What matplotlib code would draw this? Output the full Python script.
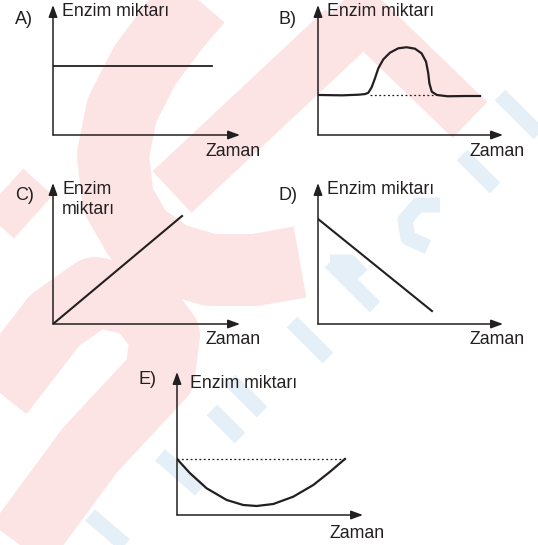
import matplotlib
matplotlib.use("Agg")
import matplotlib.pyplot as plt

# ---- chart data (each panel uses a 0..10 x 0..10 box, arrows at the ends) ----
a_x = [0, 8.5]
a_y = [5.3, 5.3]

b_x = [0, 1.3, 2.2, 2.55, 2.72, 2.90, 3.08, 3.26, 3.53, 3.89, 4.34, 4.79, 5.24, 5.60,
       5.84, 5.96, 6.02, 6.15, 6.42, 7.0, 8.0, 8.76]
b_y = [3.08, 3.05, 3.10, 3.15, 3.25, 3.67, 4.36, 5.13, 5.82, 6.33, 6.67, 6.75, 6.64, 6.28,
       5.64, 4.75, 3.98, 3.33, 3.08, 2.98, 3.00, 3.00]
b_dot_x = [2.8, 6.2]
b_dot_y = [3.08, 3.08]

c_x = [0, 6.9]
c_y = [0, 7.66]

d_x = [0, 6.16]
d_y = [7.45, 0.92]

e_x = [0, 0.70, 1.59, 2.67, 3.56, 4.28, 5.18, 6.25, 7.33, 8.23, 9.03]
e_y = [3.92, 2.92, 1.87, 1.05, 0.70, 0.63, 0.77, 1.28, 2.10, 3.03, 3.92]
e_dot_x = [0, 9.03]
e_dot_y = [3.92, 3.92]

ylabel = "Enzim miktarı"
xlabel = "Zaman"

# ---- faint watermark strokes (pixel coords of the page, width in px) ----
pink_strokes = [
    ([(205, -10), (175, 25), (145, 65), (122, 110), (113, 155), (118, 200), (138, 235),
      (170, 258), (210, 270), (255, 270), (300, 262)], 72),
    ([(172, 192), (345, 30)], 57),
    ([(320, -25), (470, 120)], 50),
    ([(-30, 430), (55, 320), (95, 292), (140, 302), (165, 335), (160, 375), (90, 450), (20, 545)], 70),
    ([(-10, 235), (38, 182)], 40),
]
blue_strokes = [
    ([(500, 95), (545, 140)], 15),
    ([(462, 155), (495, 188)], 15),
    ([(440, 205), (418, 205), (405, 220), (408, 238), (428, 247)], 15),
    ([(330, 262), (375, 307)], 15),
    ([(330, 262), (350, 262), (362, 275)], 15),
    ([(292, 322), (328, 358)], 15),
    ([(230, 380), (262, 412)], 15),
    ([(212, 410), (240, 438)], 15),
    ([(160, 455), (200, 490)], 15),
    ([(90, 515), (125, 545)], 15),
]
pink = "#fde4e4"
blue = "#e4eff8"
ink = "#231f20"

W, H = 538, 545
fig = plt.figure(figsize=(W / 100, H / 100), dpi=100)
plt.rcParams["font.family"] = ["Liberation Sans", "DejaVu Sans"]

bg = fig.add_axes([0, 0, 1, 1], zorder=-5)
bg.set_xlim(0, W)
bg.set_ylim(H, 0)
bg.axis("off")
for pts, w in pink_strokes:
    bg.plot([p[0] for p in pts], [p[1] for p in pts], color=pink, lw=w * 0.72,
            solid_capstyle="butt", solid_joinstyle="round")
for pts, w in blue_strokes:
    bg.plot([p[0] for p in pts], [p[1] for p in pts], color=blue, lw=w * 0.72,
            solid_capstyle="butt", solid_joinstyle="round")


def panel(l, t, r, b):
    ax = fig.add_axes([l / W, 1 - b / H, (r - l) / W, (b - t) / H])
    ax.set_xlim(0, 10)
    ax.set_ylim(0, 10)
    ax.axis("off")
    ax.patch.set_alpha(0)
    ap = dict(arrowstyle="-|>,head_length=0.6,head_width=0.22", color=ink, lw=1.1,
              shrinkA=0, shrinkB=0, mutation_scale=12)
    ax.annotate("", xy=(10, 0), xytext=(0, 0), arrowprops=ap, annotation_clip=False)
    ax.annotate("", xy=(0, 10), xytext=(0, 0), arrowprops=ap, annotation_clip=False)
    return ax


def txt(x, y, s, size=12.8):
    fig.text(x / W, 1 - y / H, s, fontsize=size, color=ink, ha="left", va="center")


axA = panel(53, 5, 240, 135)
axA.plot(a_x, a_y, color=ink, lw=1.3)
txt(15, 19, "A)", 13)
txt(62, 11, ylabel)
txt(205, 152, xlabel)

axB = panel(318, 5, 503, 135)
axB.plot(b_dot_x, b_dot_y, color=ink, lw=0.9, ls=(0, (1.5, 2)))
axB.plot(b_x, b_y, color=ink, lw=1.6, solid_joinstyle="round")
txt(278, 19, "B)", 13)
txt(327, 11, ylabel)
txt(470, 152, xlabel)

axC = panel(53, 183, 240, 324)
axC.plot(c_x, c_y, color=ink, lw=1.5)
txt(15, 195, "C)", 13)
txt(62, 189, "Enzim")
txt(62, 209, "miktarı")
txt(205, 340, xlabel)

axD = panel(318, 183, 503, 324)
axD.plot(d_x, d_y, color=ink, lw=1.5)
txt(278, 195, "D)", 13)
txt(327, 189, ylabel)
txt(470, 340, xlabel)

axE = panel(177, 372, 363, 515)
axE.plot(e_dot_x, e_dot_y, color=ink, lw=0.9, ls=(0, (1.5, 2)))
axE.plot(e_x, e_y, color=ink, lw=1.6, solid_joinstyle="round")
txt(138, 380, "E)", 13)
txt(190, 384, ylabel)
txt(330, 533, xlabel)

fig.savefig("out.png", dpi=100)
